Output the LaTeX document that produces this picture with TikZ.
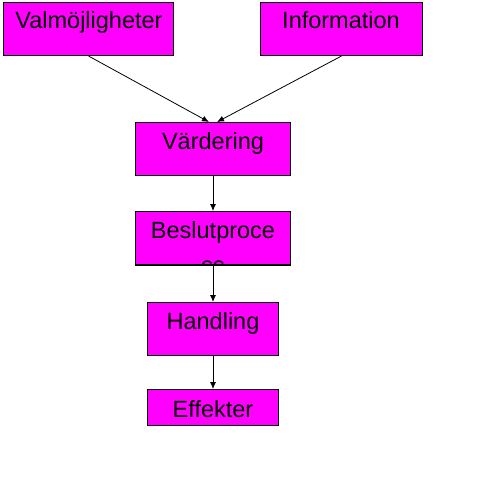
\documentclass[tikz,border=0pt]{standalone}
\usepackage{fontspec}
\setmainfont{Liberation Sans}
\usetikzlibrary{arrows.meta}
\definecolor{mag}{RGB}{255,0,255}
\begin{document}
\begin{tikzpicture}[x=1pt,y=-1pt,
  box/.style={draw=black,line width=1pt,fill=mag,inner sep=0pt,anchor=north west},
  lbl/.style={anchor=base,inner sep=0pt,font=\fontsize{23.5}{28}\selectfont},
  arr/.style={line width=0.8pt,-{Latex[length=7pt,width=6pt]}}]
\useasboundingbox (0,0) rectangle (480,479);
\node[box,minimum width=170pt,minimum height=53pt] (val) at (3,2) {};
\node[box,minimum width=162pt,minimum height=53pt] (inf) at (260,2) {};
\node[box,minimum width=155pt,minimum height=53pt] (var) at (135,122) {};
\node[box,minimum width=155pt,minimum height=53pt] (bes) at (135,211) {};
\node[box,minimum width=131pt,minimum height=53pt] (han) at (147,302) {};
\node[box,minimum width=131pt,minimum height=36pt] (eff) at (147,389) {};
\node[lbl] (tval) at (89,28.5) {Valmöjligheter};
\node[lbl] (tinf) at (341,28.5) {Information};
\node[lbl] (tvar) at (213,149) {Värdering};
\node[lbl] (tbes) at (213,238) {Beslutproce};
\begin{scope}
\clip (136,212) rectangle (289,263);
\node[lbl] (tbes2) at (213,273) {ss};
\end{scope}
\draw[line width=1pt] (bes.south west) -- (bes.south east);
\node[lbl] (than) at (213,329) {Handling};
\node[lbl] (teff) at (213,417) {Effekter};
\draw[arr] (val.south) -- ([xshift=-4pt]var.north);
\draw[arr] (inf.south) -- ([xshift=4pt]var.north);
\draw[arr] (var.south) -- (bes.north);
\draw[arr] (bes.south) -- (han.north);
\draw[arr] (han.south) -- (eff.north);
\end{tikzpicture}
\end{document}
